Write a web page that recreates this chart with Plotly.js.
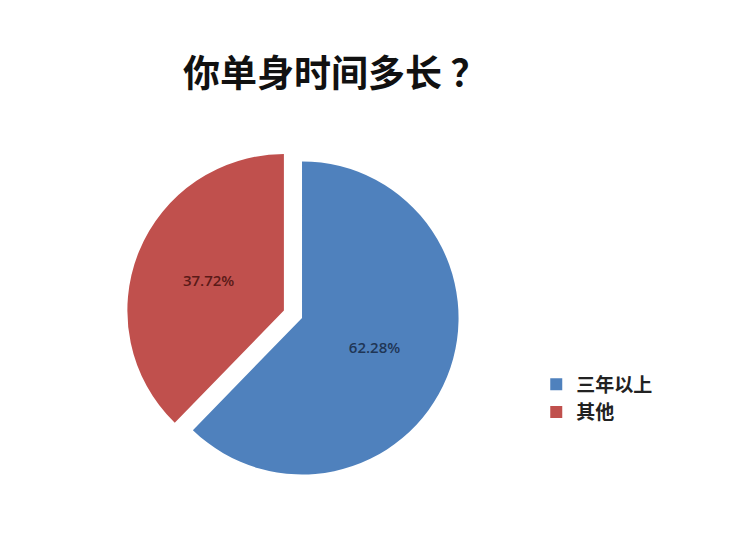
<!DOCTYPE html>
<html>
<head>
<meta charset="utf-8">
<script src="https://cdn.plot.ly/plotly-3.0.1.min.js"></script>
<style>
  html, body { margin: 0; padding: 0; background: #fff; }
  #chart { width: 750px; height: 552px; }
</style>
</head>
<body>
<div id="chart"></div>
<script>
// 你单身时间多长？
var categories = ['三年以上', '其他'];
var shares = [62.28, 37.72];
var sliceColors = ['#4F81BD', '#C0504D'];
var labelColors = ['#1F3656', '#5A1A18'];

var trace = {
  type: 'pie',
  labels: categories,
  values: shares,
  sort: false,
  direction: 'clockwise',
  rotation: 0,
  pull: [0, 0.125],
  marker: { colors: sliceColors, line: { color: '#ffffff', width: 0 } },
  textinfo: 'percent',
  texttemplate: '%{percent:.2%}',
  textposition: 'inside',
  insidetextorientation: 'horizontal',
  insidetextfont: { family: 'Open Sans, DejaVu Sans, sans-serif', size: 15, weight: 600, color: labelColors },
  hoverinfo: 'label+percent',
  domain: { x: [0.1667, 0.6387], y: [0.105, 0.743] }
};

var layout = {
  width: 750,
  height: 552,
  margin: { l: 0, r: 0, t: 0, b: 0 },
  paper_bgcolor: '#ffffff',
  title: {
    text: '<b>你单身时间多长 ？</b>',
    font: { family: 'Noto Sans CJK SC, sans-serif', size: 37, color: '#111111' },
    x: 0.447,
    xanchor: 'center',
    y: 0.865,
    yanchor: 'middle'
  },
  showlegend: true,
  legend: {
    x: 0.715,
    xanchor: 'left',
    y: 0.338,
    yanchor: 'top',
    font: { family: 'Noto Sans CJK SC, sans-serif', size: 19, weight: 'bold', color: '#222222' },
    itemwidth: 30,
    tracegroupgap: 0
  }
};

Plotly.newPlot('chart', [trace], layout, { displayModeBar: false, staticPlot: true });
</script>
</body>
</html>
